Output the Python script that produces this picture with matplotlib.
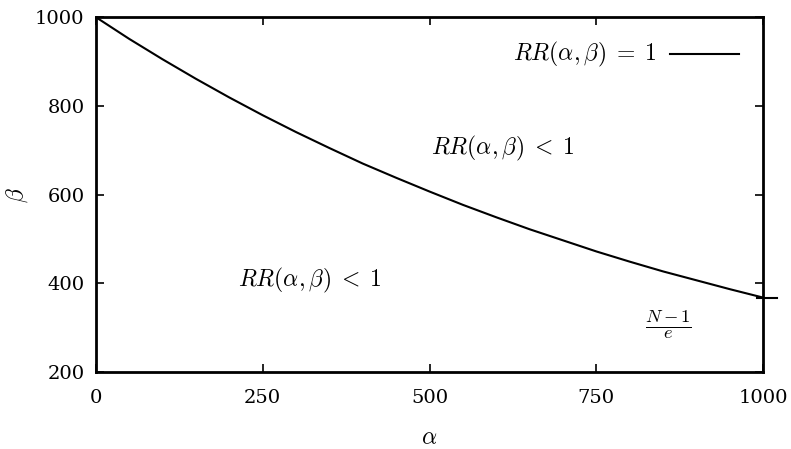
import numpy as np
import matplotlib.pyplot as plt

alpha = [0, 50, 100, 150, 200, 250, 300, 350, 400, 450, 500,
         550, 600, 650, 700, 750, 800, 850, 900, 950, 1000]
beta = [1000, 951, 905, 861, 819, 779, 741, 705, 670, 638, 607,
        577, 549, 522, 497, 472, 449, 427, 407, 387, 368]

xticks = [0, 250, 500, 750, 1000]
yticks = [200, 400, 600, 800, 1000]
beta_end = 368  # (N-1)/e mark on the right axis

plt.rcParams['font.family'] = ['DejaVu Serif']
plt.rcParams['mathtext.fontset'] = 'cm'

fig = plt.figure(figsize=(7.91, 4.49), dpi=100)
ax = fig.add_axes([0.121, 0.171, 0.844, 0.791])

ax.plot(alpha, beta, color='black', lw=1.5)

ax.set_xlim(0, 1000)
ax.set_ylim(200, 1000)
ax.set_xticks(xticks)
ax.set_yticks(yticks)
ax.tick_params(direction='in', length=6, width=1.2, labelsize=14,
               top=True, right=True)
ax.tick_params(axis='x', pad=12)
ax.tick_params(axis='y', pad=8)
for s in ax.spines.values():
    s.set_linewidth(2)

# short mark crossing the right axis at (N-1)/e
ax.plot([990, 1020], [beta_end, beta_end], color='black', lw=1.5, clip_on=False)
ax.text(858, 308, r'$\frac{N-1}{e}$', fontsize=19, ha='center', va='center')

ax.text(610, 705, r'$RR(\alpha,\beta)\;<\;1$', fontsize=17, ha='center', va='center')
ax.text(321, 407, r'$RR(\alpha,\beta)\;<\;1$', fontsize=17, ha='center', va='center')

# key
ax.text(840, 916, r'$RR(\alpha,\beta)\;=\;1$', fontsize=17, ha='right', va='center')
ax.plot([860, 963], [916, 916], color='black', lw=1.5)

ax.set_xlabel(r'$\alpha$', fontsize=17, labelpad=14)
ax.set_ylabel(r'$\beta$', fontsize=17)
ax.yaxis.set_label_coords(-0.098, 0.5)

fig.savefig('out.png', dpi=100)
